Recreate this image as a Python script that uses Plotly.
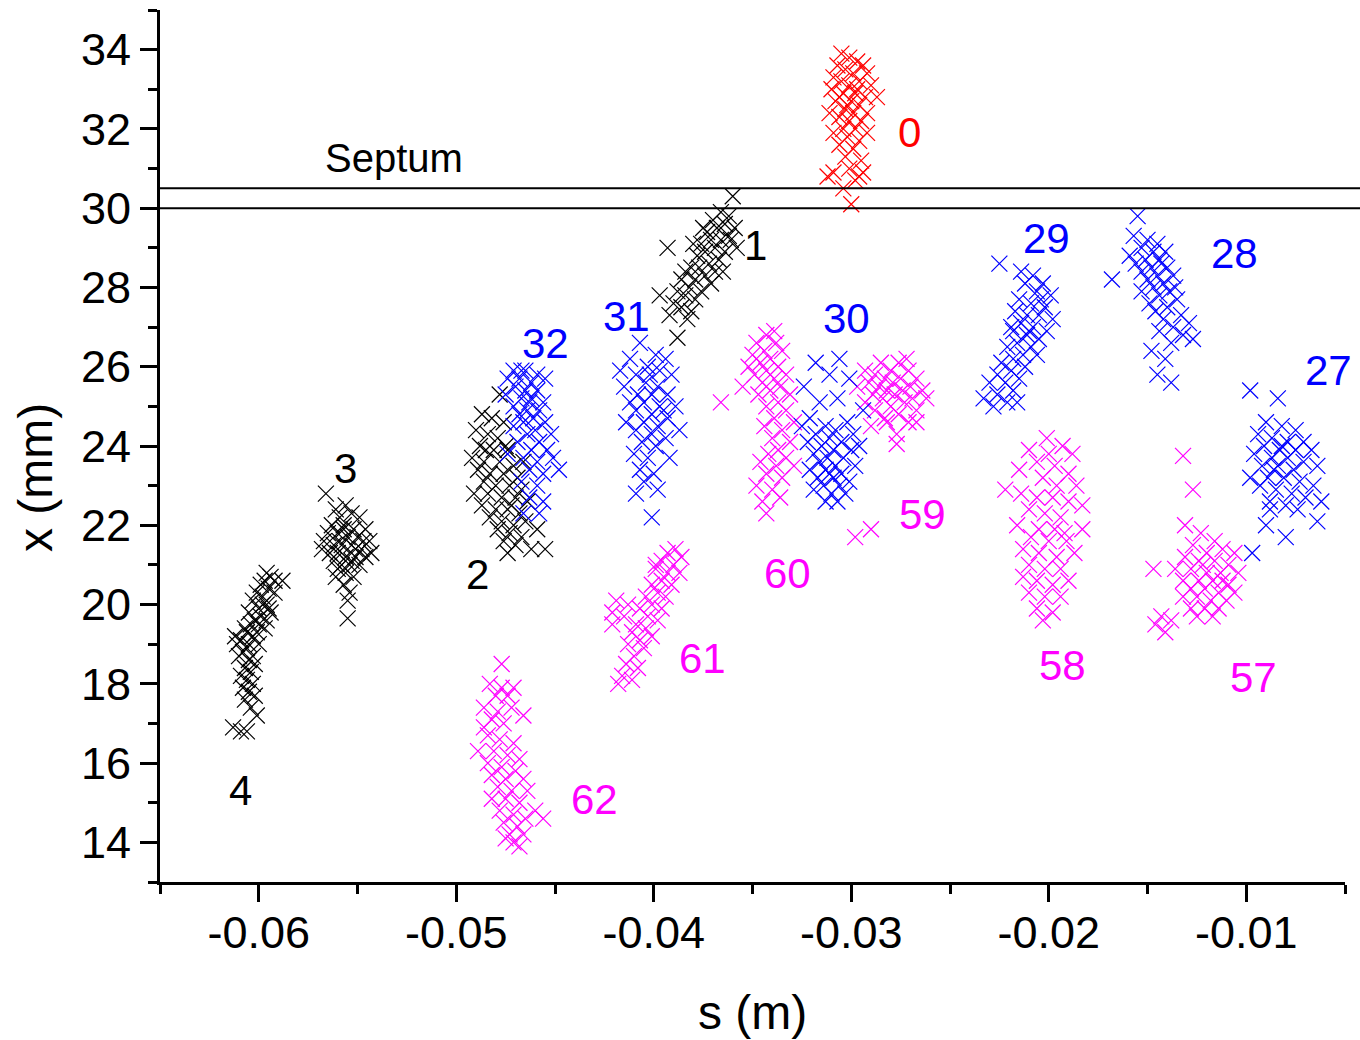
import plotly.graph_objects as go

# ---------------- data (s in m, x in mm) ----------------
s_c4 = [-0.0596,-0.0594,-0.0592,-0.0597,-0.0599,-0.0595,-0.0588,-0.0601,-0.0598,-0.0596,-0.0603,-0.0600,-0.0594,-0.0605,-0.0602,-0.0599,-0.0604,-0.0597,-0.0607,-0.0601,-0.0603,-0.0609,-0.0605,-0.0611,-0.0600,-0.0606,-0.0608,-0.0603,-0.0610,-0.0605,-0.0602,-0.0607,-0.0604,-0.0609,-0.0606,-0.0603,-0.0608,-0.0605,-0.0602,-0.0607,-0.0604,-0.0601,-0.0613,-0.0609,-0.0606,-0.0595,-0.0598,-0.0592,-0.0600,-0.0606,-0.0612,-0.0596]
x_c4 = [20.8,20.7,20.6,20.6,20.5,20.4,20.6,20.3,20.2,20.0,20.1,19.9,19.8,19.8,19.6,19.7,19.5,19.4,19.4,19.3,19.2,19.1,19.0,19.0,19.0,18.9,18.8,18.7,18.7,18.6,18.5,18.4,18.3,18.2,18.1,18.0,17.9,17.8,17.7,17.6,17.4,17.2,16.9,16.8,16.8,19.9,20.0,20.3,19.5,19.3,19.2,19.6]

s_c3 = [-0.0566,-0.0561,-0.0556,-0.0553,-0.0559,-0.0549,-0.0563,-0.0557,-0.0552,-0.0546,-0.0565,-0.0560,-0.0555,-0.0550,-0.0544,-0.0567,-0.0562,-0.0558,-0.0553,-0.0548,-0.0564,-0.0560,-0.0556,-0.0551,-0.0546,-0.0562,-0.0558,-0.0554,-0.0549,-0.0560,-0.0556,-0.0552,-0.0557,-0.0554,-0.0555,-0.0555,-0.0557,-0.0553,-0.0559,-0.0551,-0.0547,-0.0543,-0.0568,-0.0561]
x_c3 = [22.8,22.4,22.5,22.3,22.2,22.2,22.0,22.0,21.9,21.9,21.8,21.8,21.7,21.7,21.6,21.6,21.5,21.5,21.5,21.4,21.3,21.3,21.2,21.2,21.2,21.1,21.0,21.0,21.0,20.9,20.8,20.7,20.5,20.3,20.1,19.65,21.9,21.1,21.6,21.4,21.6,21.3,21.4,20.7]

s_c2 = [-0.0478,-0.0487,-0.0482,-0.0476,-0.0490,-0.0484,-0.0479,-0.0488,-0.0481,-0.0474,-0.0492,-0.0486,-0.0478,-0.0471,-0.0489,-0.0483,-0.0476,-0.0469,-0.0486,-0.0480,-0.0473,-0.0467,-0.0491,-0.0484,-0.0477,-0.0470,-0.0464,-0.0487,-0.0480,-0.0474,-0.0468,-0.0483,-0.0477,-0.0471,-0.0465,-0.0479,-0.0473,-0.0467,-0.0476,-0.0470,-0.0474,-0.0462,-0.0459,-0.0455,-0.0485,-0.0475,-0.0466,-0.0472]
x_c2 = [25.3,24.8,24.7,24.6,24.4,24.3,24.2,24.0,23.9,23.9,23.7,23.6,23.6,23.5,23.4,23.3,23.3,23.2,23.1,23.0,23.0,22.9,22.8,22.8,22.7,22.7,22.6,22.5,22.4,22.4,22.3,22.2,22.1,22.0,22.1,21.9,21.8,21.7,21.6,21.5,21.3,21.4,21.9,21.4,23.9,24.0,23.6,22.5]

s_c1 = [-0.0360,-0.0362,-0.0366,-0.0370,-0.0364,-0.0359,-0.0368,-0.0373,-0.0362,-0.0366,-0.0371,-0.0376,-0.0358,-0.0369,-0.0374,-0.0364,-0.0378,-0.0367,-0.0372,-0.0377,-0.0381,-0.0369,-0.0374,-0.0384,-0.0379,-0.0386,-0.0371,-0.0382,-0.0376,-0.0388,-0.0384,-0.0379,-0.0390,-0.0386,-0.0381,-0.0392,-0.0383,-0.0388,-0.0393,-0.0380,-0.0365,-0.0397,-0.0375,-0.0361]
x_c1 = [30.3,29.8,29.9,29.7,29.6,29.5,29.5,29.4,29.3,29.2,29.2,29.1,29.0,29.0,28.9,28.9,28.8,28.7,28.6,28.5,28.5,28.4,28.3,28.4,28.2,28.2,28.1,28.0,27.9,27.9,27.8,27.7,27.6,27.5,27.4,27.3,27.2,26.73,29.0,29.1,28.4,27.8,29.5,29.2]

s_c0 = [-0.0305,-0.0301,-0.0297,-0.0307,-0.0294,-0.0303,-0.0299,-0.0309,-0.0292,-0.0305,-0.0296,-0.0301,-0.0310,-0.0290,-0.0298,-0.0304,-0.0293,-0.0308,-0.0300,-0.0287,-0.0296,-0.0303,-0.0311,-0.0299,-0.0292,-0.0306,-0.0301,-0.0295,-0.0304,-0.0298,-0.0309,-0.0292,-0.0302,-0.0296,-0.0306,-0.0299,-0.0303,-0.0295,-0.0301,-0.0309,-0.0294,-0.0298,-0.0304,-0.0312,-0.0300,-0.0296,-0.0302,-0.0297,-0.0306]
x_c0 = [33.9,33.8,33.7,33.6,33.6,33.5,33.4,33.3,33.4,33.2,33.2,33.1,33.0,33.1,32.9,32.9,32.8,32.7,32.7,32.8,32.6,32.5,32.4,32.4,32.4,32.3,32.2,32.2,32.0,32.0,31.9,31.9,31.8,31.7,31.6,31.5,31.3,31.2,31.0,30.9,30.9,30.7,30.5,30.8,30.1,30.8,32.6,33.0,32.8]

s_c32 = [-0.0471,-0.0465,-0.0459,-0.0474,-0.0468,-0.0462,-0.0455,-0.0470,-0.0465,-0.0459,-0.0475,-0.0467,-0.0462,-0.0456,-0.0471,-0.0464,-0.0458,-0.0468,-0.0461,-0.0466,-0.0455,-0.0471,-0.0460,-0.0464,-0.0452,-0.0469,-0.0458,-0.0462,-0.0454,-0.0466,-0.0459,-0.0451,-0.0463,-0.0456,-0.0448,-0.0467,-0.0459,-0.0463,-0.0456,-0.0466,-0.0458,-0.0474,-0.0467,-0.0463]
x_c32 = [25.9,25.9,25.8,25.7,25.7,25.6,25.7,25.5,25.4,25.4,25.3,25.2,25.2,25.1,25.0,24.9,24.9,24.8,24.7,24.6,24.6,24.5,24.4,24.3,24.3,24.1,24.1,23.9,23.9,23.7,23.6,23.7,23.4,23.3,23.4,23.1,23.0,22.7,22.6,22.3,22.3,23.8,25.9,25.1]

s_c31 = [-0.0407,-0.0399,-0.0412,-0.0394,-0.0403,-0.0397,-0.0409,-0.0391,-0.0404,-0.0415,-0.0398,-0.0408,-0.0401,-0.0393,-0.0412,-0.0405,-0.0397,-0.0389,-0.0409,-0.0401,-0.0393,-0.0414,-0.0405,-0.0398,-0.0409,-0.0401,-0.0394,-0.0406,-0.0399,-0.0410,-0.0403,-0.0392,-0.0407,-0.0400,-0.0405,-0.0409,-0.0398,-0.0401,-0.0417,-0.0402,-0.0395,-0.0387]
x_c31 = [26.6,26.3,26.2,26.2,26.0,25.9,25.8,25.8,25.6,25.5,25.5,25.3,25.3,25.3,25.1,25.1,25.0,25.0,24.9,24.8,24.7,24.6,24.6,24.5,24.4,24.3,24.2,24.1,24.0,23.8,23.7,23.7,23.4,23.3,23.1,22.8,22.9,22.2,25.9,25.8,24.9,24.4]

s_c30 = [-0.0318,-0.0306,-0.0311,-0.0301,-0.0324,-0.0307,-0.0316,-0.0294,-0.0321,-0.0302,-0.0313,-0.0308,-0.0318,-0.0299,-0.0311,-0.0322,-0.0305,-0.0315,-0.0309,-0.0300,-0.0319,-0.0312,-0.0304,-0.0316,-0.0308,-0.0298,-0.0321,-0.0313,-0.0305,-0.0317,-0.0309,-0.0301,-0.0314,-0.0306,-0.0319,-0.0310,-0.0303,-0.0313,-0.0307,-0.0296,-0.0325,-0.0311]
x_c30 = [26.1,26.2,25.8,25.7,25.5,25.2,25.1,24.9,24.7,24.6,24.5,24.4,24.3,24.3,24.2,24.1,24.1,24.0,23.9,23.9,23.8,23.7,23.7,23.6,23.5,23.5,23.4,23.4,23.3,23.2,23.2,23.1,23.0,23.0,22.9,22.8,22.8,22.6,22.6,24.0,24.5,23.3]

s_c29 = [-0.0225,-0.0214,-0.0208,-0.0203,-0.0212,-0.0206,-0.0199,-0.0215,-0.0209,-0.0202,-0.0217,-0.0211,-0.0205,-0.0198,-0.0214,-0.0208,-0.0201,-0.0218,-0.0211,-0.0205,-0.0216,-0.0209,-0.0221,-0.0213,-0.0206,-0.0218,-0.0224,-0.0212,-0.0219,-0.0226,-0.0215,-0.0222,-0.0230,-0.0218,-0.0226,-0.0233,-0.0221,-0.0228,-0.0216,-0.0204,-0.0210,-0.0219]
x_c29 = [28.6,28.4,28.3,28.1,28.1,27.9,27.8,27.7,27.6,27.5,27.4,27.3,27.3,27.2,27.1,27.0,26.9,26.9,26.8,26.7,26.6,26.5,26.5,26.3,26.3,26.2,26.1,26.0,25.9,25.8,25.7,25.6,25.6,25.4,25.3,25.2,25.1,25.0,25.1,27.7,26.9,27.0]

s_c28 = [-0.0155,-0.0157,-0.0150,-0.0145,-0.0153,-0.0147,-0.0159,-0.0141,-0.0151,-0.0144,-0.0156,-0.0148,-0.0140,-0.0153,-0.0145,-0.0137,-0.0150,-0.0168,-0.0142,-0.0147,-0.0139,-0.0153,-0.0144,-0.0135,-0.0149,-0.0140,-0.0146,-0.0133,-0.0142,-0.0137,-0.0129,-0.0144,-0.0132,-0.0138,-0.0127,-0.0148,-0.0141,-0.0145,-0.0138,-0.0143,-0.0136]
x_c28 = [29.8,29.3,29.2,29.1,29.0,28.9,28.8,28.9,28.7,28.7,28.6,28.5,28.5,28.4,28.3,28.3,28.2,28.2,28.1,28.0,27.9,27.9,27.8,27.7,27.6,27.5,27.4,27.3,27.2,27.0,27.1,26.9,26.8,26.6,26.7,26.4,26.2,25.8,25.6,28.6,28.0]

s_c27 = [-0.0098,-0.0084,-0.0090,-0.0082,-0.0075,-0.0094,-0.0087,-0.0079,-0.0071,-0.0091,-0.0083,-0.0075,-0.0067,-0.0096,-0.0087,-0.0079,-0.0071,-0.0092,-0.0084,-0.0076,-0.0064,-0.0098,-0.0089,-0.0081,-0.0073,-0.0066,-0.0093,-0.0085,-0.0077,-0.0070,-0.0088,-0.0080,-0.0062,-0.0074,-0.0088,-0.0090,-0.0080,-0.0097,-0.0064,-0.0082,-0.0086]
x_c27 = [25.4,25.2,24.6,24.5,24.4,24.3,24.2,24.1,24.1,24.0,23.9,23.9,23.9,23.8,23.7,23.7,23.6,23.5,23.5,23.4,23.5,23.2,23.2,23.2,23.1,23.0,23.0,22.9,22.8,22.7,22.6,22.5,22.6,22.4,22.4,22.0,21.7,21.3,22.1,24.0,23.4]

s_c60 = [-0.0343,-0.0348,-0.0338,-0.0344,-0.0350,-0.0335,-0.0341,-0.0346,-0.0352,-0.0337,-0.0343,-0.0333,-0.0349,-0.0339,-0.0345,-0.0355,-0.0336,-0.0341,-0.0331,-0.0347,-0.0337,-0.0343,-0.0333,-0.0366,-0.0339,-0.0329,-0.0344,-0.0335,-0.0340,-0.0331,-0.0337,-0.0342,-0.0333,-0.0346,-0.0338,-0.0329,-0.0343,-0.0335,-0.0348,-0.0340,-0.0345,-0.0336,-0.0343,-0.0339]
x_c60 = [26.8,26.6,26.6,26.4,26.3,26.4,26.2,26.1,26.0,26.0,25.9,25.8,25.8,25.7,25.6,25.5,25.5,25.4,25.3,25.3,25.1,25.0,24.9,25.1,24.7,24.6,24.5,24.4,24.2,24.1,23.9,23.8,23.7,23.6,23.5,23.5,23.3,23.2,23.0,22.9,22.6,22.7,22.3,26.9]

s_c59 = [-0.0285,-0.0276,-0.0280,-0.0271,-0.0288,-0.0283,-0.0275,-0.0267,-0.0291,-0.0279,-0.0270,-0.0286,-0.0297,-0.0282,-0.0274,-0.0264,-0.0289,-0.0278,-0.0269,-0.0284,-0.0293,-0.0273,-0.0262,-0.0280,-0.0288,-0.0267,-0.0276,-0.0283,-0.0271,-0.0282,-0.0290,-0.0267,-0.0277,-0.0277,-0.0298,-0.0290,-0.0293,-0.0272]
x_c59 = [26.1,26.1,25.9,25.9,25.8,25.7,25.7,25.7,25.6,25.6,25.5,25.5,25.5,25.4,25.4,25.4,25.3,25.3,25.2,25.2,25.1,25.1,25.2,25.0,24.9,24.9,24.8,24.7,24.6,24.6,24.5,24.6,24.3,24.05,21.7,21.9,25.9,26.2]

s_c58 = [-0.0201,-0.0193,-0.0210,-0.0200,-0.0188,-0.0206,-0.0197,-0.0190,-0.0203,-0.0196,-0.0222,-0.0186,-0.0214,-0.0206,-0.0198,-0.0190,-0.0183,-0.0210,-0.0202,-0.0194,-0.0216,-0.0205,-0.0197,-0.0183,-0.0209,-0.0200,-0.0191,-0.0213,-0.0205,-0.0196,-0.0187,-0.0210,-0.0202,-0.0194,-0.0213,-0.0206,-0.0198,-0.0190,-0.0210,-0.0202,-0.0194,-0.0206,-0.0198,-0.0203,-0.0215,-0.0192]
x_c58 = [24.2,24.0,23.9,23.8,23.8,23.6,23.5,23.3,23.2,23.0,22.9,23.0,22.8,22.7,22.7,22.6,22.5,22.4,22.3,22.2,22.0,21.9,21.9,21.9,21.7,21.6,21.6,21.4,21.3,21.2,21.3,21.0,20.9,20.9,20.7,20.6,20.5,20.6,20.3,20.2,20.2,19.9,19.8,19.6,23.4,21.8]

s_c57 = [-0.0132,-0.0127,-0.0131,-0.0123,-0.0116,-0.0127,-0.0112,-0.0120,-0.0106,-0.0131,-0.0124,-0.0116,-0.0109,-0.0147,-0.0136,-0.0128,-0.0120,-0.0113,-0.0104,-0.0132,-0.0124,-0.0117,-0.0109,-0.0128,-0.0121,-0.0114,-0.0106,-0.0132,-0.0125,-0.0118,-0.0110,-0.0128,-0.0121,-0.0114,-0.0125,-0.0117,-0.0143,-0.0146,-0.0138,-0.0141,-0.0112,-0.0122]
x_c57 = [23.75,22.9,22.0,21.8,21.6,21.5,21.4,21.3,21.3,21.2,21.1,21.1,21.0,20.9,20.9,20.9,20.8,20.8,20.8,20.6,20.6,20.6,20.5,20.4,20.4,20.3,20.3,20.2,20.2,20.1,20.1,19.9,19.9,19.9,19.7,19.7,19.7,19.5,19.6,19.3,20.6,21.0]

s_c61 = [-0.0389,-0.0393,-0.0386,-0.0396,-0.0390,-0.0399,-0.0393,-0.0387,-0.0396,-0.0401,-0.0391,-0.0398,-0.0404,-0.0394,-0.0419,-0.0413,-0.0401,-0.0396,-0.0407,-0.0403,-0.0415,-0.0398,-0.0409,-0.0421,-0.0404,-0.0411,-0.0401,-0.0407,-0.0413,-0.0405,-0.0410,-0.0414,-0.0408,-0.0416,-0.0411,-0.0418,-0.0421,-0.0399]
x_c61 = [21.4,21.3,21.2,21.1,21.0,20.9,20.8,20.8,20.6,20.5,20.5,20.3,20.2,20.2,20.1,20.0,20.0,19.9,19.9,19.7,19.7,19.6,19.5,19.5,19.4,19.3,19.2,19.1,19.0,18.9,18.7,18.5,18.4,18.2,18.1,18.0,19.8,21.0]

s_c62 = [-0.0477,-0.0483,-0.0477,-0.0471,-0.0480,-0.0474,-0.0486,-0.0479,-0.0472,-0.0466,-0.0482,-0.0476,-0.0484,-0.0478,-0.0471,-0.0489,-0.0481,-0.0474,-0.0468,-0.0484,-0.0477,-0.0470,-0.0482,-0.0475,-0.0466,-0.0479,-0.0472,-0.0464,-0.0482,-0.0475,-0.0468,-0.0460,-0.0478,-0.0471,-0.0465,-0.0476,-0.0469,-0.0473,-0.0466,-0.0471,-0.0468,-0.0475,-0.0456,-0.0486]
x_c62 = [18.5,18.0,17.9,17.9,17.7,17.7,17.4,17.3,17.4,17.2,17.1,17.0,16.7,16.6,16.5,16.3,16.3,16.2,16.1,16.0,15.9,15.8,15.7,15.6,15.6,15.4,15.3,15.3,15.1,15.1,15.0,14.8,14.8,14.7,14.6,14.5,14.4,14.2,14.2,14.0,13.9,14.1,14.6,16.9]

# cluster labels
label_text  = ["0", "1", "2", "3", "4", "27", "28", "29", "30", "31", "32",
               "57", "58", "59", "60", "61", "62"]
label_s     = [-0.02706, -0.03487, -0.04893, -0.05563, -0.06091, -0.00584, -0.01061,
               -0.02010, -0.03025, -0.04137, -0.04548, -0.00964, -0.01929, -0.02640,
               -0.03325, -0.03751, -0.04300]
label_x     = [31.92, 29.06, 20.76, 23.44, 15.32, 25.90, 28.86, 29.24, 27.22, 27.27,
               26.58, 18.15, 18.46, 22.28, 20.78, 18.63, 15.09]
label_color = ["#FF0000", "#000000", "#000000", "#000000", "#000000",
               "#0000FF", "#0000FF", "#0000FF", "#0000FF", "#0000FF", "#0000FF",
               "#FF00FF", "#FF00FF", "#FF00FF", "#FF00FF", "#FF00FF", "#FF00FF"]

septum_levels = [30.0, 30.5]
septum_label_s, septum_label_x = -0.05315, 31.27

x_tick_vals = [-0.06, -0.05, -0.04, -0.03, -0.02, -0.01]
x_tick_text = ["-0.06", "-0.05", "-0.04", "-0.03", "-0.02", "-0.01"]
y_tick_vals = [14, 16, 18, 20, 22, 24, 26, 28, 30, 32, 34]

BLACK, RED, BLUE, MAG = "#000000", "#FF0000", "#0000FF", "#FF00FF"
groups = [
    (s_c4, x_c4, BLACK), (s_c3, x_c3, BLACK), (s_c2, x_c2, BLACK), (s_c1, x_c1, BLACK),
    (s_c62, x_c62, MAG), (s_c61, x_c61, MAG), (s_c60, x_c60, MAG), (s_c59, x_c59, MAG),
    (s_c58, x_c58, MAG), (s_c57, x_c57, MAG),
    (s_c32, x_c32, BLUE), (s_c31, x_c31, BLUE), (s_c30, x_c30, BLUE), (s_c29, x_c29, BLUE),
    (s_c28, x_c28, BLUE), (s_c27, x_c27, BLUE),
    (s_c0, x_c0, RED),
]

FONT = "Arial, 'Liberation Sans', sans-serif"

fig = go.Figure()
for s_vals, x_vals, col in groups:
    fig.add_trace(go.Scatter(
        x=s_vals, y=x_vals, mode="markers",
        marker=dict(symbol="x-thin", size=16, color=col,
                    line=dict(color=col, width=1.2)),
        showlegend=False, hoverinfo="skip", cliponaxis=False))

for lev in septum_levels:
    fig.add_shape(type="line", xref="paper", yref="y", x0=0, x1=1.013,
                  y0=lev, y1=lev, line=dict(color="black", width=2))

for t, sv, xv, c in zip(label_text, label_s, label_x, label_color):
    fig.add_annotation(x=sv, y=xv, text=t, showarrow=False,
                       font=dict(family=FONT, size=42, color=c),
                       xanchor="center", yanchor="middle")

fig.add_annotation(x=septum_label_s, y=septum_label_x, text="Septum", showarrow=False,
                   font=dict(family=FONT, size=40, color="black"),
                   xanchor="center", yanchor="middle")

fig.add_annotation(xref="paper", yref="paper", x=0.5, y=-0.150, text="s (m)",
                   showarrow=False, font=dict(family=FONT, size=48, color="black"),
                   xanchor="center", yanchor="middle")
fig.add_annotation(xref="paper", yref="paper", x=-0.1055, y=0.4644, text="x (mm)",
                   showarrow=False, textangle=-90,
                   font=dict(family=FONT, size=48, color="black"),
                   xanchor="center", yanchor="middle")

axis_common = dict(showline=True, linecolor="black", linewidth=3, ticks="outside",
                   ticklen=17, tickwidth=2.5, tickcolor="black", showgrid=False,
                   zeroline=False, mirror=False,
                   tickfont=dict(family=FONT, size=45, color="black"))

fig.update_xaxes(range=[-0.065, -0.005], tickmode="array", tickvals=x_tick_vals,
                 ticktext=x_tick_text, ticklabelstandoff=-8,
                 minor=dict(dtick=0.005, tick0=-0.065, ticklen=9, tickwidth=2.5,
                            ticks="outside", tickcolor="black", showgrid=False),
                 **axis_common)
fig.update_yaxes(range=[13, 35], tickmode="array", tickvals=y_tick_vals,
                 minor=dict(dtick=1, tick0=13, ticklen=9, tickwidth=2.5,
                            ticks="outside", tickcolor="black", showgrid=False),
                 **axis_common)

fig.update_layout(width=1360, height=1040, plot_bgcolor="white", paper_bgcolor="white",
                  margin=dict(l=160, r=15, t=10, b=158, autoexpand=False),
                  font=dict(family=FONT))

fig.write_html("out.html")
